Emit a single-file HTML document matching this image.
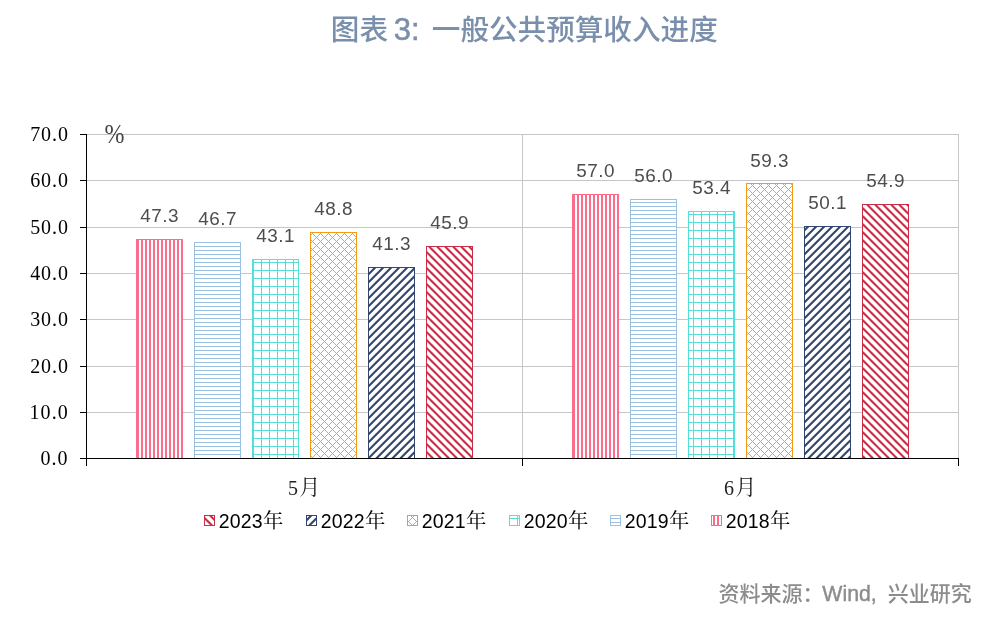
<!DOCTYPE html>
<html lang="zh"><head><meta charset="utf-8"><title>图表 3</title>
<style>
html,body{margin:0;padding:0;background:#fff;}
body{width:993px;height:618px;overflow:hidden;position:relative;}
svg{position:absolute;left:0;top:0;display:block;}
.title{font-family:"Liberation Sans","Noto Sans CJK SC",sans-serif;font-size:28.6px;font-weight:500;fill:#7a8fab;}
.src{font-family:"Liberation Sans","Noto Sans CJK SC",sans-serif;font-size:21px;font-weight:500;fill:#8c8c8c;}
.yl{font-family:"Liberation Serif",serif;font-size:20px;fill:#000;letter-spacing:0.9px;}
.pc{font-family:"Liberation Serif",serif;font-size:24px;fill:#444;}
.xl{font-family:"Liberation Serif","Noto Serif CJK SC",serif;font-size:20px;font-weight:400;fill:#222;}
.dl{font-family:"Liberation Sans",sans-serif;font-size:18.9px;fill:#4d4d4d;text-anchor:middle;letter-spacing:0.55px;}
.lg{font-family:"Liberation Sans","Noto Serif CJK SC",sans-serif;font-size:19.5px;letter-spacing:0.15px;fill:#000;}
</style></head><body>
<svg width="993" height="618" viewBox="0 0 993 618">
<defs>
<pattern id="p2018" patternUnits="userSpaceOnUse" x="1" y="0" width="4" height="4"><rect x="0" y="0" width="2" height="4" fill="#fb6d8a"/></pattern>
<pattern id="p2019" patternUnits="userSpaceOnUse" x="0" y="2" width="4" height="4"><rect x="0" y="0" width="4" height="1" fill="#9cc0e0"/></pattern>
<pattern id="p2020" patternUnits="userSpaceOnUse" x="5" y="6" width="8" height="8"><rect x="0" y="0" width="8" height="1" fill="#56dfd7"/><rect x="0" y="0" width="1" height="8" fill="#56dfd7"/></pattern>
<pattern id="p2021" patternUnits="userSpaceOnUse" x="0" y="0" width="8" height="8"><path d="M-2,-1 L8,9 M6,-1 L10,3 M-2,4 L4,-2 M-2,12 L12,-2" stroke="#f39c12" stroke-width="0.95" fill="none"/></pattern>
<pattern id="p2022" patternUnits="userSpaceOnUse" x="0" y="0" width="8" height="8"><path d="M-2,4.8 L4.8,-2 M-2,12.8 L12.8,-2" stroke="#33466f" stroke-width="2.1" fill="none"/></pattern>
<pattern id="p2023" patternUnits="userSpaceOnUse" x="0" y="0" width="8" height="8"><path d="M-2,-0.6 L8,9.4 M6,-0.6 L10,3.4" stroke="#c92e46" stroke-width="2.1" fill="none"/></pattern>
</defs>
<rect width="993" height="618" fill="#fff"/>
<text class="title" y="39.5"><tspan x="330.8">图表</tspan><tspan x="393.8" font-size="31" stroke="#7a8fab" stroke-width="0.55">3:</tspan><tspan x="431.8">一般公共预算收入进度</tspan></text>

<line x1="86.5" y1="412.5" x2="959.0" y2="412.5" stroke="#c6c6c6" stroke-width="1"/>
<line x1="86.5" y1="366.5" x2="959.0" y2="366.5" stroke="#c6c6c6" stroke-width="1"/>
<line x1="86.5" y1="319.5" x2="959.0" y2="319.5" stroke="#c6c6c6" stroke-width="1"/>
<line x1="86.5" y1="273.5" x2="959.0" y2="273.5" stroke="#c6c6c6" stroke-width="1"/>
<line x1="86.5" y1="227.5" x2="959.0" y2="227.5" stroke="#c6c6c6" stroke-width="1"/>
<line x1="86.5" y1="180.5" x2="959.0" y2="180.5" stroke="#c6c6c6" stroke-width="1"/>
<line x1="86.5" y1="134.5" x2="959.0" y2="134.5" stroke="#c6c6c6" stroke-width="1"/>
<line x1="522.5" y1="134.5" x2="522.5" y2="458.5" stroke="#c6c6c6"/>
<line x1="958.5" y1="134.5" x2="958.5" y2="458.5" stroke="#c6c6c6"/>
<rect x="136.5" y="239.5" width="46" height="219.0" fill="#fff"/>
<rect x="136.5" y="239.5" width="46" height="219.0" fill="url(#p2018)" stroke="#fb6d8a" stroke-width="1"/>
<text class="dl" x="159.7" y="222.4">47.3</text>
<rect x="194.5" y="242.5" width="46" height="216.0" fill="#fff"/>
<rect x="194.5" y="242.5" width="46" height="216.0" fill="url(#p2019)" stroke="#9cc0e0" stroke-width="1"/>
<text class="dl" x="217.7" y="225.1">46.7</text>
<rect x="252.5" y="259.5" width="46" height="199.0" fill="#fff"/>
<rect x="252.5" y="259.5" width="46" height="199.0" fill="url(#p2020)" stroke="#56dfd7" stroke-width="1"/>
<text class="dl" x="275.7" y="241.8">43.1</text>
<rect x="310.5" y="232.5" width="46" height="226.0" fill="#fff"/>
<rect x="310.5" y="232.5" width="46" height="226.0" fill="url(#p2021)" stroke="#f39c12" stroke-width="1"/>
<text class="dl" x="333.7" y="215.4">48.8</text>
<rect x="368.5" y="267.5" width="46" height="191.0" fill="#fff"/>
<rect x="368.5" y="267.5" width="46" height="191.0" fill="url(#p2022)" stroke="#33466f" stroke-width="1"/>
<text class="dl" x="391.7" y="250.2">41.3</text>
<rect x="426.5" y="246.5" width="46" height="212.0" fill="#fff"/>
<rect x="426.5" y="246.5" width="46" height="212.0" fill="url(#p2023)" stroke="#c92e46" stroke-width="1"/>
<text class="dl" x="449.7" y="228.9">45.9</text>
<rect x="572.5" y="194.5" width="46" height="264.0" fill="#fff"/>
<rect x="572.5" y="194.5" width="46" height="264.0" fill="url(#p2018)" stroke="#fb6d8a" stroke-width="1"/>
<text class="dl" x="595.7" y="177.4">57.0</text>
<rect x="630.5" y="199.5" width="46" height="259.0" fill="#fff"/>
<rect x="630.5" y="199.5" width="46" height="259.0" fill="url(#p2019)" stroke="#9cc0e0" stroke-width="1"/>
<text class="dl" x="653.7" y="182.1">56.0</text>
<rect x="688.5" y="211.5" width="46" height="247.0" fill="#fff"/>
<rect x="688.5" y="211.5" width="46" height="247.0" fill="url(#p2020)" stroke="#56dfd7" stroke-width="1"/>
<text class="dl" x="711.7" y="194.1">53.4</text>
<rect x="746.5" y="183.5" width="46" height="275.0" fill="#fff"/>
<rect x="746.5" y="183.5" width="46" height="275.0" fill="url(#p2021)" stroke="#f39c12" stroke-width="1"/>
<text class="dl" x="769.7" y="166.8">59.3</text>
<rect x="804.5" y="226.5" width="46" height="232.0" fill="#fff"/>
<rect x="804.5" y="226.5" width="46" height="232.0" fill="url(#p2022)" stroke="#33466f" stroke-width="1"/>
<text class="dl" x="827.7" y="209.4">50.1</text>
<rect x="862.5" y="204.5" width="46" height="254.0" fill="#fff"/>
<rect x="862.5" y="204.5" width="46" height="254.0" fill="url(#p2023)" stroke="#c92e46" stroke-width="1"/>
<text class="dl" x="885.7" y="187.2">54.9</text>
<line x1="86.5" y1="134.0" x2="86.5" y2="466" stroke="#000" stroke-width="1"/>
<line x1="80" y1="458.5" x2="959.0" y2="458.5" stroke="#000" stroke-width="1"/>
<line x1="80" y1="412.5" x2="86.5" y2="412.5" stroke="#000"/>
<line x1="80" y1="366.5" x2="86.5" y2="366.5" stroke="#000"/>
<line x1="80" y1="319.5" x2="86.5" y2="319.5" stroke="#000"/>
<line x1="80" y1="273.5" x2="86.5" y2="273.5" stroke="#000"/>
<line x1="80" y1="227.5" x2="86.5" y2="227.5" stroke="#000"/>
<line x1="80" y1="180.5" x2="86.5" y2="180.5" stroke="#000"/>
<line x1="80" y1="134.5" x2="86.5" y2="134.5" stroke="#000"/>
<line x1="522.5" y1="458.5" x2="522.5" y2="466" stroke="#000"/>
<line x1="958.5" y1="458.5" x2="958.5" y2="466" stroke="#000"/>
<text class="yl" x="40.6" y="464.7">0.0</text>
<text class="yl" x="29.4" y="418.7" style="letter-spacing:1.15px">10.0</text>
<text class="yl" x="30.2" y="372.7">20.0</text>
<text class="yl" x="30.2" y="325.7">30.0</text>
<text class="yl" x="30.2" y="279.7">40.0</text>
<text class="yl" x="30.2" y="233.7">50.0</text>
<text class="yl" x="30.2" y="186.7">60.0</text>
<text class="yl" x="30.2" y="140.7">70.0</text>
<text class="pc" transform="translate(104.5 142.7) scale(1 1.12)" x="0" y="0">%</text>
<text class="xl" x="288" y="495">5<tspan dx="1.2" dy="-0.8" font-size="21">月</tspan></text>
<text class="xl" x="724" y="495">6<tspan dx="1.2" dy="-0.8" font-size="21">月</tspan></text>
<rect x="204.5" y="515.5" width="10" height="10" fill="#fff"/>
<rect x="204.5" y="515.5" width="10" height="10" fill="url(#p2023)" stroke="#c92e46"/>
<text class="lg" x="218.7" y="527.6">2023<tspan dx="0.4" dy="0.6" font-size="20.3">年</tspan></text>
<rect x="306.5" y="515.5" width="10" height="10" fill="#fff"/>
<rect x="306.5" y="515.5" width="10" height="10" fill="url(#p2022)" stroke="#33466f"/>
<text class="lg" x="320.7" y="527.6">2022<tspan dx="0.4" dy="0.6" font-size="20.3">年</tspan></text>
<rect x="407.5" y="515.5" width="10" height="10" fill="#fff"/>
<rect x="407.5" y="515.5" width="10" height="10" fill="url(#p2021)" stroke="#f39c12"/>
<text class="lg" x="421.7" y="527.6">2021<tspan dx="0.4" dy="0.6" font-size="20.3">年</tspan></text>
<rect x="509.5" y="515.5" width="10" height="10" fill="#fff"/>
<rect x="509.5" y="515.5" width="10" height="10" fill="url(#p2020)" stroke="#56dfd7"/>
<text class="lg" x="523.7" y="527.6">2020<tspan dx="0.4" dy="0.6" font-size="20.3">年</tspan></text>
<rect x="610.5" y="515.5" width="10" height="10" fill="#fff"/>
<rect x="610.5" y="515.5" width="10" height="10" fill="url(#p2019)" stroke="#9cc0e0"/>
<text class="lg" x="624.7" y="527.6">2019<tspan dx="0.4" dy="0.6" font-size="20.3">年</tspan></text>
<rect x="711.5" y="515.5" width="10" height="10" fill="#fff"/>
<rect x="711.5" y="515.5" width="10" height="10" fill="url(#p2018)" stroke="#fb6d8a"/>
<text class="lg" x="725.7" y="527.6">2018<tspan dx="0.4" dy="0.6" font-size="20.3">年</tspan></text>
<text class="src" y="601"><tspan x="718.5">资料来源：</tspan><tspan x="822.3" stroke="#8c8c8c" stroke-width="0.4" font-size="21.3">Wind,</tspan><tspan x="887.8">兴业研究</tspan></text>
</svg></body></html>
